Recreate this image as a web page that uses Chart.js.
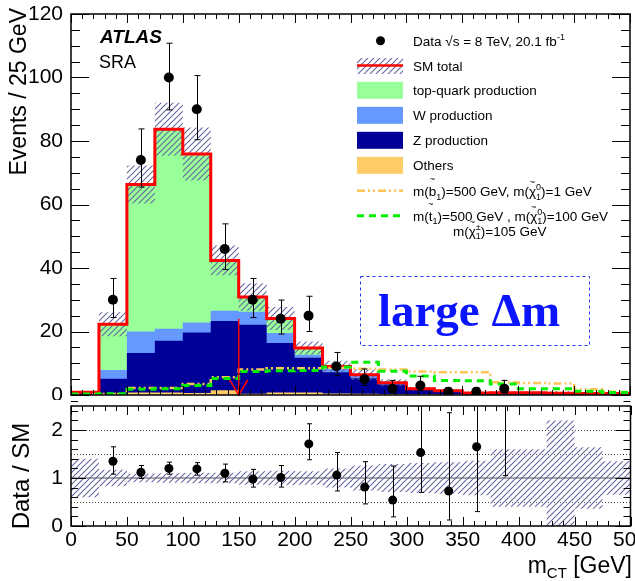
<!DOCTYPE html>
<html>
<head>
<meta charset="utf-8">
<script src="https://cdn.jsdelivr.net/npm/chart.js@4.4.0/dist/chart.umd.min.js"></script>
<style>
  html, body { margin: 0; padding: 0; background: #fff; }
  #wrap { position: relative; width: 635px; height: 581px; }
  canvas { position: absolute; left: 0; }
  #main { top: 0; }
  #ratio { top: 400px; }
</style>
</head>
<body>
<div id="wrap">
  <canvas id="main" width="635" height="400"></canvas>
  <canvas id="ratio" width="635" height="181"></canvas>
</div>
<script>
// m_CT bins, 25 GeV wide
const binEdges = [0, 25, 50, 75, 100, 125, 150, 175, 200, 225, 250, 275, 300, 325, 350, 375, 400, 425, 450, 475, 500];
const binCenters = [12.5, 37.5, 62.5, 87.5, 112.5, 137.5, 162.5, 187.5, 212.5, 237.5, 262.5, 287.5, 312.5, 337.5, 362.5, 387.5, 412.5, 437.5, 462.5, 487.5];

// background contributions per bin (events)
const othersBkg = [0.05, 0.3, 0.8, 0.8, 0.6, 1.5, 0.4, 0.8, 0.8, 0.5, 0.4, 0.3, 0.2, 0.15, 0.1, 0.1, 0.1, 0.05, 0.05, 0.05];
const zBkg      = [0.6, 4.8, 12.4, 16.3, 19.1, 21.8, 21.7, 15.6, 10.9, 6.7, 4.9, 3.0, 1.6, 1.1, 0.45, 0.5, 0.5, 0.45, 0.4, 0.4];
const wBkg      = [0.15, 2.8, 6.8, 3.8, 3.1, 3.2, 4.15, 3.1, 1.0, 1.0, 0.8, 0.4, 0.15, 0.07, 0.05, 0.05, 0.05, 0.03, 0.03, 0.03];
const topBkg    = [0.1, 14.4, 46.3, 62.8, 53.1, 15.9, 4.65, 4.6, 2.1, 0.8, 0.3, 0.15, 0.05, 0.05, 0.02, 0.05, 0.05, 0.02, 0.02, 0.02];
// relative SM uncertainty per bin
const smRelUnc  = [0.4, 0.17, 0.09, 0.10, 0.11, 0.11, 0.14, 0.15, 0.14, 0.2, 0.26, 0.29, 0.31, 0.33, 0.36, 0.6, 0.6, 1.2, 0.64, 0.35];

// signal points
const sbottomSig = [0.2, 0.3, 2.2, 2.2, 3.5, 5.6, 8.0, 8.4, 8.4, 8.6, 8.3, 8.0, 7.4, 7.2, 7.2, 4.0, 3.8, 3.6, 1.8, 1.0];
const stopSig    = [0.3, 0.4, 1.8, 2.0, 3.0, 5.2, 7.4, 7.6, 7.7, 8.8, 10.3, 7.5, 6.0, 4.6, 4.5, 3.5, 2.0, 2.0, 1.2, 0.8];

// data
const dataVals = [null, 30, 74, 100, 90, 46, 30, 24, 25, 9, 5, 2, 3, 1, 1, 2, null, null, null, null];
const dataHi   = [null, 36.7, 83.8, 110.8, 100.6, 53.9, 36.7, 29.9, 31.1, 13.4, 8.2, 4.6, 5.9, 2.3, 2.3, 4.6, null, null, null, null];
const dataLo   = [null, 24.4, 65.5, 89.8, 80.4, 39.5, 24.4, 19.2, 20.0, 6.2, 3.0, 0.7, 1.4, 0.17, 0.17, 0.7, null, null, null, null];

// data / SM
const ratioVals = [null, 1.35, 1.12, 1.2, 1.19, 1.1, 0.98, 1.01, 1.71, 1.06, 0.81, 0.54, 1.53, 0.73, 1.65, 3.0, null, null, null, null];
const ratioHi   = [null, 1.65, 1.26, 1.33, 1.32, 1.29, 1.18, 1.26, 2.13, 1.53, 1.34, 1.25, 2.9, 2.36, 3.3, 6.0, null, null, null, null];
const ratioLo   = [null, 1.08, 0.99, 1.08, 1.06, 0.92, 0.81, 0.81, 1.38, 0.73, 0.46, 0.19, 0.7, 0.125, 0.3, 1.05, null, null, null, null];

// axis ticks
const xTicks = [0, 50, 100, 150, 200, 250, 300, 350, 400, 450, 500];
const mainYTicks = [0, 20, 40, 60, 80, 100, 120];
const ratioYTicks = [0, 1, 2];
const ratioLines = [0.5, 1.5, 2];

// cut arrow
const cutValue = 150;
const cutArrowTop = 24;

const FONT = '"Liberation Sans", Arial, Helvetica, sans-serif';

function cumulate(...layers) {
    return layers[0].map((_, i) => layers.reduce((s, l) => s + l[i], 0));
}
function steps(vals) {
    return binEdges.map((x, i) => ({ x: x, y: vals[Math.min(i, vals.length - 1)] }));
}
function points(vals) {
    return binCenters.map((x, i) => ({ x: x, y: vals[i] })).filter(p => p.y != null);
}

const stackZ = cumulate(othersBkg, zBkg);
const stackW = cumulate(othersBkg, zBkg, wBkg);
const smTotal = cumulate(othersBkg, zBkg, wBkg, topBkg);
const bandHi = smTotal.map((v, i) => v * (1 + smRelUnc[i]));
const bandLo = smTotal.map((v, i) => Math.max(0, v * (1 - smRelUnc[i])));
const ratioBandHi = smRelUnc.map(r => 1 + r);
const ratioBandLo = smRelUnc.map(r => Math.max(0, 1 - r));

function hatchPattern() {
    const s = 6;
    const c = document.createElement('canvas');
    c.width = s; c.height = s;
    const g = c.getContext('2d');
    g.strokeStyle = '#62629f';
    g.lineWidth = 1.05;
    g.beginPath();
    g.moveTo(0, s); g.lineTo(s, 0);
    g.moveTo(-1, 1); g.lineTo(1, -1);
    g.moveTo(s - 1, s + 1); g.lineTo(s + 1, s - 1);
    g.stroke();
    return g.createPattern(c, 'repeat');
}
const hatch = hatchPattern();

function stepLine(vals, extra) {
    return Object.assign({
        data: steps(vals),
        stepped: true,
        pointRadius: 0,
        borderWidth: 0,
        borderColor: 'rgba(0,0,0,0)',
        fill: false
    }, extra);
}

function drawErrorBars(chart, lo, hi, cap) {
    const { ctx, chartArea, scales: { x, y } } = chart;
    ctx.save();
    ctx.beginPath();
    ctx.rect(chartArea.left, chartArea.top, chartArea.width, chartArea.height);
    ctx.clip();
    ctx.strokeStyle = '#000';
    ctx.lineWidth = 1;
    binCenters.forEach((c, i) => {
        if (lo[i] == null) return;
        const px = Math.round(x.getPixelForValue(c)) + 0.5;
        const yl = y.getPixelForValue(lo[i]);
        const yh = y.getPixelForValue(hi[i]);
        ctx.beginPath();
        ctx.moveTo(px, yl); ctx.lineTo(px, yh);
        ctx.moveTo(px - cap, yl); ctx.lineTo(px + cap, yl);
        ctx.moveTo(px - cap, yh); ctx.lineTo(px + cap, yh);
        ctx.stroke();
    });
    ctx.restore();
}

function drawFrame(chart, xMaj, xMin, yStep, yMajStep, yMaj, yMin) {
    const { ctx, chartArea: a, scales: { x, y } } = chart;
    ctx.save();
    ctx.strokeStyle = '#000';
    ctx.lineWidth = 1;
    ctx.beginPath();
    for (let v = 0; v <= 500; v += 10) {
        const px = Math.round(x.getPixelForValue(v)) + 0.5;
        const len = v % 50 === 0 ? xMaj : xMin;
        ctx.moveTo(px, a.bottom); ctx.lineTo(px, a.bottom - len);
        ctx.moveTo(px, a.top); ctx.lineTo(px, a.top + len);
    }
    const n = Math.round((y.max - y.min) / yStep);
    for (let k = 0; k <= n; k++) {
        const v = y.min + k * yStep;
        const q = v / yMajStep;
        const len = Math.abs(q - Math.round(q)) < 1e-6 ? yMaj : yMin;
        const py = Math.round(y.getPixelForValue(v)) + 0.5;
        ctx.moveTo(a.left, py); ctx.lineTo(a.left + len, py);
        ctx.moveTo(a.right, py); ctx.lineTo(a.right - len, py);
    }
    ctx.stroke();
    ctx.lineWidth = 1.5;
    ctx.strokeRect(a.left, a.top, a.width, a.height);
    ctx.restore();
}

function richText(ctx, x, y, parts, fs) {
    let cx = x;
    const big = fs + 'px ' + FONT;
    const small = Math.round(fs * 0.7) + 'px ' + FONT;
    for (const p of parts) {
        if (typeof p === 'string') {
            ctx.font = big;
            ctx.fillText(p, cx, y);
            cx += ctx.measureText(p).width;
        } else if (p.tilde) {
            ctx.font = big;
            ctx.fillText(p.tilde, cx, y);
            const w = ctx.measureText(p.tilde).width;
            ctx.font = small;
            const tw = ctx.measureText('~').width;
            ctx.fillText('~', cx + (w - tw) / 2, y - fs * p.up);
            cx += w;
        } else {
            ctx.font = small;
            let w = 0;
            if (p.sup) { ctx.fillText(p.sup, cx, y - fs * 0.42); w = Math.max(w, ctx.measureText(p.sup).width); }
            if (p.sub) { ctx.fillText(p.sub, cx, y + fs * 0.28); w = Math.max(w, ctx.measureText(p.sub).width); }
            cx += w;
        }
    }
    return cx;
}

function drawLegend(ctx) {
    const bx = 357, bw = 46, tx = 413, fs = 13.5;
    ctx.save();
    ctx.fillStyle = '#000';
    ctx.textBaseline = 'alphabetic';
    // data
    ctx.beginPath(); ctx.arc(380.5, 40.7, 4.5, 0, Math.PI * 2); ctx.fill();
    richText(ctx, tx, 46, ['Data \u221As = 8 TeV, 20.1 fb', { sup: '-1' }], fs);
    // SM total
    ctx.fillStyle = hatch; ctx.fillRect(bx, 58, bw, 16);
    ctx.strokeStyle = '#ff0000'; ctx.lineWidth = 2.5;
    ctx.beginPath(); ctx.moveTo(bx, 65.5); ctx.lineTo(bx + bw, 65.5); ctx.stroke();
    ctx.fillStyle = '#000';
    richText(ctx, tx, 70.5, ['SM total'], fs);
    const boxes = [
        ['#99ff99', 'top-quark production', 90.3],
        ['#6699ff', 'W production', 115.3],
        ['#000099', 'Z production', 140.3],
        ['#ffcc66', 'Others', 165.3]
    ];
    boxes.forEach(([col, label, cy]) => {
        ctx.fillStyle = col; ctx.fillRect(bx, cy - 8.5, bw, 17);
        ctx.fillStyle = '#000'; richText(ctx, tx, cy + 5, [label], fs);
    });
    // signals
    ctx.lineWidth = 2.5;
    ctx.strokeStyle = '#ffc45a'; ctx.setLineDash([8, 3, 2, 3, 2, 3]);
    ctx.beginPath(); ctx.moveTo(bx, 190.7); ctx.lineTo(bx + bw, 190.7); ctx.stroke();
    ctx.strokeStyle = '#00ee00'; ctx.lineWidth = 3; ctx.setLineDash([7, 5]);
    ctx.beginPath(); ctx.moveTo(bx, 215.7); ctx.lineTo(bx + bw, 215.7); ctx.stroke();
    ctx.setLineDash([]);
    ctx.fillStyle = '#000';
    richText(ctx, tx, 196, ['m(', { tilde: 'b', up: 1.02 }, { sub: '1' }, ')=500 GeV, m(', { tilde: '\u03C7', up: 0.78 }, { sup: '0', sub: '1' }, ')=1 GeV'], fs);
    richText(ctx, tx, 220.5, ['m(', { tilde: 't', up: 0.98 }, { sub: '1' }, ')=500 GeV , m(', { tilde: '\u03C7', up: 0.78 }, { sup: '0', sub: '1' }, ')=100 GeV'], fs);
    richText(ctx, 453, 235.5, ['m(', { tilde: '\u03C7', up: 0.78 }, { sup: '\u00B1', sub: '1' }, ')=105 GeV'], fs);
    ctx.restore();
}

const mainDecor = {
    id: 'mainDecor',
    afterDatasetsDraw(chart) {
        const { ctx, scales: { x, y } } = chart;
        drawErrorBars(chart, dataLo, dataHi, 3);
        // cut arrow
        const ax = x.getPixelForValue(cutValue);
        const y0 = y.getPixelForValue(0);
        ctx.save();
        ctx.strokeStyle = '#ff0000';
        ctx.lineWidth = 1.5;
        ctx.beginPath();
        ctx.moveTo(ax, y.getPixelForValue(cutArrowTop)); ctx.lineTo(ax, y0);
        ctx.moveTo(ax - 9, y0 - 15); ctx.lineTo(ax, y0); ctx.lineTo(ax + 9, y0 - 15);
        ctx.stroke();
        ctx.restore();
    },
    afterDraw(chart) {
        const ctx = chart.ctx;
        drawFrame(chart, 9, 5, 5, 20, 18, 9);
        ctx.save();
        ctx.fillStyle = '#000';
        ctx.textBaseline = 'alphabetic';
        ctx.font = 'italic bold 19px ' + FONT;
        ctx.fillText('ATLAS', 100, 43);
        ctx.font = '18px ' + FONT;
        ctx.fillText('SRA', 99, 68);
        // y title
        ctx.save();
        ctx.translate(26, 8);
        ctx.rotate(-Math.PI / 2);
        ctx.textAlign = 'right';
        ctx.font = '23px ' + FONT;
        ctx.fillText('Events / 25 GeV', 0, 0);
        ctx.restore();
        // large delta m box
        ctx.strokeStyle = '#2233ee';
        ctx.lineWidth = 1;
        ctx.setLineDash([3, 3]);
        ctx.strokeRect(360.5, 276.5, 229, 69);
        ctx.setLineDash([]);
        ctx.fillStyle = '#0a14ff';
        ctx.textAlign = 'center';
        ctx.font = 'bold 47px "Liberation Serif", "Times New Roman", serif';
        ctx.fillText('large \u0394m', 469, 326);
        ctx.restore();
        drawLegend(ctx);
    }
};

const ratioDecor = {
    id: 'ratioDecor',
    beforeDatasetsDraw(chart) {
        const { ctx, chartArea: a, scales: { y } } = chart;
        ctx.save();
        ctx.strokeStyle = '#444';
        ctx.lineWidth = 1;
        ctx.setLineDash([1, 2]);
        ratioLines.forEach(v => {
            const py = Math.round(y.getPixelForValue(v)) + 0.5;
            ctx.beginPath(); ctx.moveTo(a.left, py); ctx.lineTo(a.right, py); ctx.stroke();
        });
        ctx.setLineDash([]);
        ctx.strokeStyle = '#888';
        ctx.lineWidth = 1.5;
        const p1 = y.getPixelForValue(1);
        ctx.beginPath(); ctx.moveTo(a.left, p1); ctx.lineTo(a.right, p1); ctx.stroke();
        ctx.restore();
    },
    afterDatasetsDraw(chart) {
        drawErrorBars(chart, ratioLo, ratioHi, 2.5);
    },
    afterDraw(chart) {
        const ctx = chart.ctx;
        drawFrame(chart, 9, 5, 0.2, 1, 15, 7);
        ctx.save();
        ctx.fillStyle = '#000';
        ctx.textBaseline = 'alphabetic';
        // y title
        ctx.save();
        ctx.translate(29, 76);
        ctx.rotate(-Math.PI / 2);
        ctx.textAlign = 'center';
        ctx.font = '24px ' + FONT;
        ctx.fillText('Data / SM', 0, 0);
        ctx.restore();
        // x title m_CT [GeV]
        const big = '23px ' + FONT, small = '15px ' + FONT;
        ctx.font = big; const wm = ctx.measureText('m').width; const wg = ctx.measureText(' [GeV]').width;
        ctx.font = small; const wc = ctx.measureText('CT').width;
        let cx = 632 - (wm + wc + wg);
        const by = 173;
        ctx.font = big; ctx.fillText('m', cx, by); cx += wm;
        ctx.font = small; ctx.fillText('CT', cx, by + 5); cx += wc;
        ctx.font = big; ctx.fillText(' [GeV]', cx, by);
        ctx.restore();
    }
};

const noGrid = { display: false, drawTicks: false };

new Chart(document.getElementById('main'), {
    type: 'line',
    data: {
        datasets: [
            stepLine(smTotal, { fill: 'origin', backgroundColor: '#99ff99', order: 10 }),
            stepLine(stackW, { fill: 'origin', backgroundColor: '#6699ff', order: 9 }),
            stepLine(stackZ, { fill: 'origin', backgroundColor: '#000099', order: 8 }),
            stepLine(othersBkg, { fill: 'origin', backgroundColor: '#ffcc66', order: 7 }),
            stepLine(bandLo, { order: 6 }),
            stepLine(bandHi, { fill: { target: 4 }, backgroundColor: hatch, order: 5 }),
            stepLine(smTotal, { borderColor: '#ff0000', borderWidth: 3, order: 4 }),
            stepLine(sbottomSig, { borderColor: '#ffc45a', borderWidth: 2.5, borderDash: [8, 3, 2, 3, 2, 3], order: 3 }),
            stepLine(stopSig, { borderColor: '#00ee00', borderWidth: 3, borderDash: [7, 5], order: 2 }),
            {
                data: points(dataVals),
                showLine: false,
                pointRadius: 5,
                pointBackgroundColor: '#000',
                pointBorderColor: '#000',
                pointBorderWidth: 0,
                order: 1
            }
        ]
    },
    options: {
        responsive: false,
        animation: false,
        layout: { padding: { top: 14, right: 2, left: 0, bottom: 0 } },
        plugins: { legend: { display: false }, tooltip: { enabled: false } },
        scales: {
            x: {
                type: 'linear', min: 0, max: 500,
                grid: noGrid, border: { display: false },
                ticks: { display: false },
                afterFit: s => { s.height = 2; s.paddingLeft = 0; s.paddingRight = 0; }
            },
            y: {
                min: 0, max: 120,
                grid: noGrid, border: { display: false },
                afterBuildTicks: s => { s.ticks = mainYTicks.map(v => ({ value: v })); },
                ticks: { font: { family: FONT, size: 21 }, color: '#000', padding: 8 },
                afterFit: s => { s.width = 71; s.paddingTop = 0; s.paddingBottom = 0; }
            }
        }
    },
    plugins: [mainDecor]
});

new Chart(document.getElementById('ratio'), {
    type: 'line',
    data: {
        datasets: [
            stepLine(ratioBandLo, { order: 3 }),
            stepLine(ratioBandHi, { fill: { target: 0 }, backgroundColor: hatch, order: 2 }),
            {
                data: points(ratioVals),
                showLine: false,
                pointRadius: 4.5,
                pointBackgroundColor: '#000',
                pointBorderColor: '#000',
                pointBorderWidth: 0,
                order: 1
            }
        ]
    },
    options: {
        responsive: false,
        animation: false,
        layout: { padding: { top: 6, right: 2, left: 0, bottom: 0 } },
        plugins: { legend: { display: false }, tooltip: { enabled: false } },
        scales: {
            x: {
                type: 'linear', min: 0, max: 500,
                grid: noGrid, border: { display: false },
                afterBuildTicks: s => { s.ticks = xTicks.map(v => ({ value: v })); },
                ticks: { font: { family: FONT, size: 21 }, color: '#000', padding: 2, autoSkip: false, maxRotation: 0, minRotation: 0 },
                afterFit: s => { s.height = 55; s.paddingLeft = 0; s.paddingRight = 0; }
            },
            y: {
                min: 0, max: 2.5,
                grid: noGrid, border: { display: false },
                afterBuildTicks: s => { s.ticks = ratioYTicks.map(v => ({ value: v })); },
                ticks: { font: { family: FONT, size: 21 }, color: '#000', padding: 8 },
                afterFit: s => { s.width = 71; s.paddingTop = 0; s.paddingBottom = 0; }
            }
        }
    },
    plugins: [ratioDecor]
});
</script>
</body>
</html>
